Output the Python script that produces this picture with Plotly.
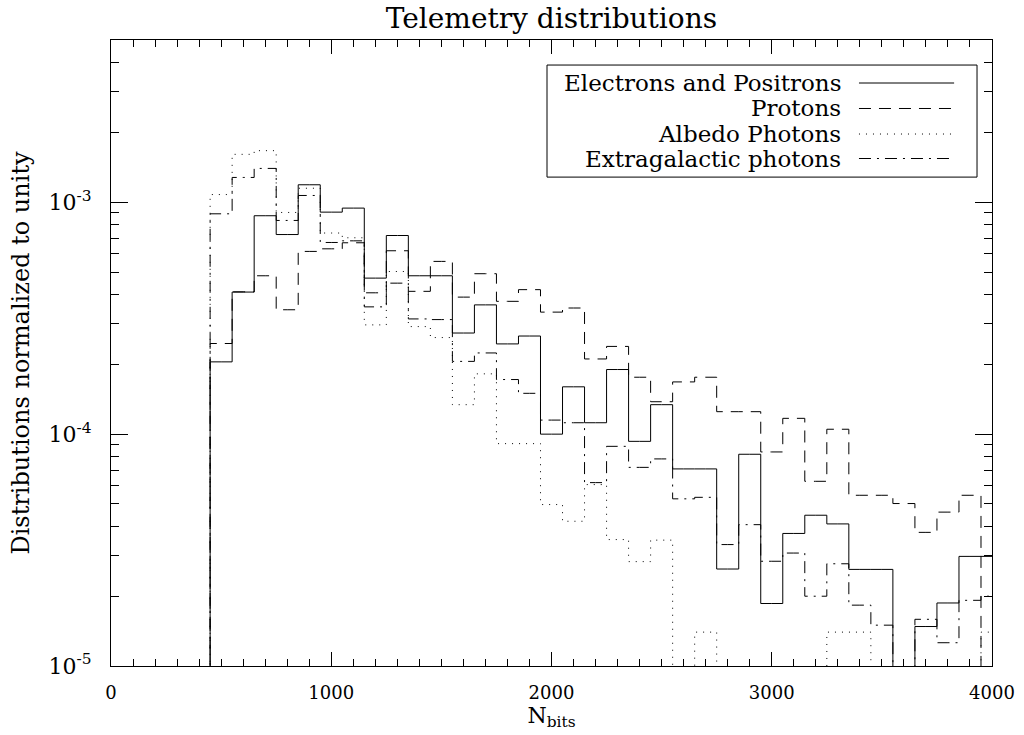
import plotly.graph_objects as go

# Bin centres (N_bits), histogram drawn IDL psym=10 style
nbits = list(range(0, 4001, 100))

electrons = [0, 0, 0, 0, 0,
             2.05e-4, 4.10e-4, 8.75e-4, 7.26e-4, 1.19e-3, 9.07e-4, 9.44e-4, 4.71e-4, 7.19e-4, 4.82e-4,
             4.82e-4, 2.73e-4, 3.61e-4, 2.45e-4, 2.65e-4, 1.00e-4, 1.60e-4, 1.12e-4, 1.90e-4, 9.31e-5,
             1.34e-4, 7.08e-5, 7.08e-5, 2.62e-5, 8.19e-5, 1.86e-5, 3.73e-5, 4.47e-5, 4.10e-5, 2.61e-5,
             2.61e-5, 0, 1.48e-5, 1.87e-5, 2.97e-5, 2.97e-5]

protons = [0, 0, 0, 0, 0,
           2.46e-4, 4.11e-4, 4.82e-4, 3.44e-4, 6.14e-4, 6.30e-4, 6.69e-4, 4.07e-4, 6.18e-4, 4.13e-4,
           5.56e-4, 3.90e-4, 4.92e-4, 3.74e-4, 4.20e-4, 3.36e-4, 3.50e-4, 2.11e-4, 2.39e-4, 1.76e-4,
           1.38e-4, 1.68e-4, 1.76e-4, 1.25e-4, 1.25e-4, 8.38e-5, 1.17e-4, 6.26e-5, 1.05e-4, 5.45e-5,
           5.45e-5, 5.02e-5, 3.77e-5, 4.61e-5, 5.45e-5, 0]

albedo = [0, 0, 0, 0, 0,
          1.08e-3, 1.61e-3, 1.67e-3, 9.04e-4, 1.15e-3, 7.37e-4, 7.03e-4, 2.96e-4, 5.03e-4, 2.91e-4,
          2.61e-4, 1.34e-4, 1.82e-4, 9.10e-5, 9.10e-5, 4.97e-5, 4.21e-5, 6.06e-5, 3.51e-5, 2.82e-5,
          3.49e-5, 0, 1.40e-5, 0, 0, 0, 0, 0, 1.40e-5, 1.40e-5,
          0, 0, 0, 0, 0, 1.40e-5]

extragalactic = [0, 0, 0, 0, 0,
                 8.92e-4, 1.28e-3, 1.40e-3, 8.35e-4, 1.07e-3, 6.71e-4, 6.82e-4, 3.54e-4, 4.48e-4, 3.14e-4,
                 3.12e-4, 2.06e-4, 2.24e-4, 1.72e-4, 1.50e-4, 1.15e-4, 1.12e-4, 6.18e-5, 8.86e-5, 7.19e-5,
                 7.82e-5, 5.26e-5, 5.34e-5, 3.34e-5, 4.07e-5, 2.83e-5, 3.07e-5, 2.00e-5, 2.76e-5, 1.83e-5,
                 1.50e-5, 0, 1.59e-5, 1.26e-5, 1.92e-5, 2.00e-5]

names = ["Electrons and Positrons", "Protons", "Albedo Photons", "Extragalactic photons"]
dashes = ["solid", "12px,8px", "1px,6px", "12px,6px,2px,6px"]

FONT = "DejaVu Serif"
floor = 1e-7  # empty bins fall below the axis

fig = go.Figure()
for name, vals, dash in zip(names, [electrons, protons, albedo, extragalactic], dashes):
    fig.add_trace(go.Scatter(
        x=nbits, y=[v if v > 0 else floor for v in vals],
        mode="lines", line=dict(color="black", width=1, dash=dash, shape="hvh"),
        name=name, showlegend=False))

# hand-made legend (text right-aligned, line sample to the right of the text)
box = dict(x0=0.4949, x1=0.983, y0=0.781, y1=0.960)
fig.add_shape(type="rect", xref="paper", yref="paper", line=dict(color="black", width=1),
              fillcolor="white", **box)
rows = [0.9313, 0.8906, 0.8498, 0.8107]
for name, dash, yr in zip(names, dashes, rows):
    fig.add_annotation(x=0.8309, y=yr, xref="paper", yref="paper", text=name, showarrow=False,
                       xanchor="right", yanchor="middle", font=dict(family=FONT, size=23, color="black"))
    fig.add_shape(type="line", xref="paper", yref="paper", x0=0.849, x1=0.957, y0=yr, y1=yr,
                  line=dict(color="black", width=1, dash=dash))

minor_y = [m * 10 ** e for e in (-5, -4, -3) for m in range(2, 10)]

fig.update_layout(
    width=1024, height=735,
    margin=dict(l=111, r=32, t=40, b=69),
    paper_bgcolor="white", plot_bgcolor="white",
    font=dict(family=FONT, color="black"),
    title=dict(text="Telemetry distributions", x=0.5385, xanchor="center", y=0.975, yanchor="middle",
               font=dict(family=FONT, size=28, color="black")),
)
fig.update_xaxes(
    range=[0, 4000], tickmode="array", tickvals=[0, 1000, 2000, 3000, 4000],
    ticks="inside", ticklen=14, tickwidth=1, tickcolor="black",
    minor=dict(dtick=100, tick0=0, ticks="inside", ticklen=7, tickwidth=1, tickcolor="black"),
    showline=True, linecolor="black", linewidth=1, mirror="allticks", showgrid=False, zeroline=False,
    tickfont=dict(family=FONT, size=18), ticklabelstandoff=10,
    title=dict(text="N<sub>bits</sub>", font=dict(family=FONT, size=22), standoff=4),
    automargin=False,
)
fig.update_yaxes(
    type="log", range=[-5, -2.3],
    tickmode="array", tickvals=[1e-5, 1e-4, 1e-3],
    ticktext=["10<sup>-5</sup>", "10<sup>-4</sup>", "10<sup>-3</sup>"],
    ticks="inside", ticklen=17, tickwidth=1, tickcolor="black",
    minor=dict(tickmode="array", tickvals=minor_y, ticks="inside", ticklen=8, tickwidth=1, tickcolor="black"),
    showline=True, linecolor="black", linewidth=1, mirror="allticks", showgrid=False, zeroline=False,
    tickfont=dict(family=FONT, size=22), ticklabelstandoff=14,
    title=dict(text="Distributions normalized to unity", font=dict(family=FONT, size=24), standoff=12),
    automargin=False,
)

fig.write_html("out.html", config={"displayModeBar": False},
               post_script="document.body.style.margin='0px';")
